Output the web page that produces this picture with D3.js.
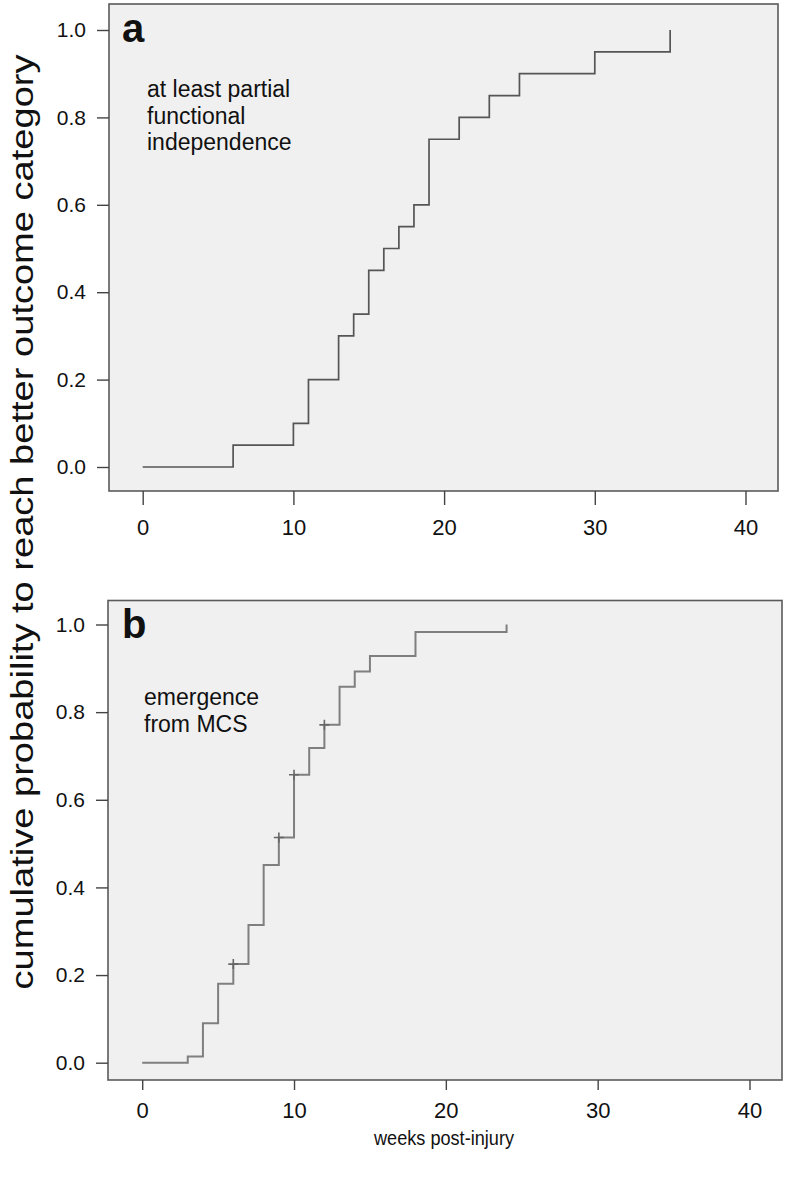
<!DOCTYPE html>
<html>
<head>
<meta charset="utf-8">
<script src="https://cdn.jsdelivr.net/npm/d3@7"></script>
<style>
  html, body { margin: 0; padding: 0; background: #fff; }
  svg { display: block; }
  text { font-family: "Liberation Sans", Arial, sans-serif; fill: #111; }
</style>
</head>
<body>
<svg id="chart" width="792" height="1184"></svg>
<script>
// ---- Data ----
const xTicks = [0, 10, 20, 30, 40];
const yTicks = [0, 0.2, 0.4, 0.6, 0.8, 1.0];

// Panel a: at least partial functional independence
const weeksA = [0, 6, 10, 11, 13, 14, 15, 16, 17, 18, 19, 21, 23, 25, 30, 35];
const probA  = [0, 0.05, 0.10, 0.20, 0.30, 0.35, 0.45, 0.50, 0.55, 0.60, 0.75, 0.80, 0.85, 0.90, 0.95, 1.00];

// Panel b: emergence from MCS
const weeksB = [0, 3, 4, 5, 6, 7, 8, 9, 10, 11, 12, 13, 14, 15, 18, 24];
const probB  = [0, 0.014, 0.09, 0.18, 0.225, 0.314, 0.451, 0.514, 0.657, 0.718, 0.771, 0.858, 0.893, 0.928, 0.983, 1.00];
const censorWeeksB = [6, 9, 10, 12];

const labelA = ["at least partial", "functional", "independence"];
const labelB = ["emergence", "from MCS"];
const yTitle = "cumulative probability to reach better outcome category";
const xTitle = "weeks post-injury";

// ---- Drawing ----
const svg = d3.select("#chart");

function panel(cfg) {
  const g = svg.append("g");
  const x = d3.scaleLinear().domain([0, 40]).range([cfg.x0, cfg.x40]);
  const y = d3.scaleLinear().domain([0, 1]).range([cfg.y0, cfg.y1]);

  g.append("rect")
    .attr("x", cfg.left).attr("y", cfg.top)
    .attr("width", cfg.right - cfg.left).attr("height", cfg.bottom - cfg.top)
    .attr("fill", "#f0f0f0").attr("stroke", "#5a5a5a").attr("stroke-width", 1.6);

  const ya = g.append("g").attr("transform", `translate(${cfg.left},0)`)
    .call(d3.axisLeft(y).tickValues(yTicks).tickSize(12).tickPadding(11).tickFormat(d3.format(".1f")));
  ya.select(".domain").remove();
  ya.selectAll("line").attr("stroke", "#444").attr("stroke-width", 1.4);
  ya.selectAll("text").attr("font-size", 21).attr("font-family", "Liberation Sans, Arial, sans-serif").attr("fill", "#111");

  const xa = g.append("g").attr("transform", `translate(0,${cfg.bottom})`)
    .call(d3.axisBottom(x).tickValues(xTicks).tickSize(cfg.xTickSize).tickPadding(cfg.xTickPad).tickFormat(d3.format("d")));
  xa.select(".domain").remove();
  xa.selectAll("line").attr("stroke", "#444").attr("stroke-width", 1.4);
  xa.selectAll("text").attr("font-size", 22).attr("font-family", "Liberation Sans, Arial, sans-serif").attr("fill", "#111");

  const pts = cfg.weeks.map((w, i) => [w, cfg.probs[i]]);
  const line = d3.line().x(d => x(d[0])).y(d => y(d[1])).curve(d3.curveStepAfter);
  g.append("path").datum(pts)
    .attr("d", line).attr("fill", "none")
    .attr("stroke", cfg.lineColor).attr("stroke-width", cfg.lineWidth);

  if (cfg.censor) {
    cfg.censor.forEach(w => {
      const p = cfg.probs[cfg.weeks.indexOf(w)];
      const cx = x(w), cy = y(p);
      g.append("path")
        .attr("d", `M${cx - 5},${cy}H${cx + 5}M${cx},${cy - 5}V${cy + 5}`)
        .attr("stroke", "#666").attr("stroke-width", 1.6).attr("fill", "none");
    });
  }

  g.append("text").attr("x", cfg.letterX).attr("y", cfg.letterY)
    .attr("font-size", 40).attr("font-weight", "bold").text(cfg.letter);

  cfg.label.forEach((t, i) => {
    g.append("text").attr("x", cfg.labelX).attr("y", cfg.labelY + i * cfg.labelStep)
      .attr("font-size", 23).text(t);
  });
}

panel({
  left: 109, right: 778, top: 4, bottom: 491,
  x0: 142.7, x40: 745.5, y0: 467, y1: 30,
  xTickSize: 14, xTickPad: 14,
  weeks: weeksA, probs: probA, lineColor: "#555", lineWidth: 1.7,
  letter: "a", letterX: 122, letterY: 42,
  label: labelA, labelX: 147, labelY: 97, labelStep: 26.7
});

panel({
  left: 108, right: 782, top: 600.5, bottom: 1080,
  x0: 142.2, x40: 749.5, y0: 1062.7, y1: 624.5,
  xTickSize: 10, xTickPad: 12,
  weeks: weeksB, probs: probB, censor: censorWeeksB, lineColor: "#7f7f7f", lineWidth: 2,
  letter: "b", letterX: 122, letterY: 638,
  label: labelB, labelX: 144, labelY: 705, labelStep: 26.7
});

svg.append("text")
  .attr("transform", "translate(33,522) rotate(-90)")
  .attr("text-anchor", "middle")
  .attr("font-size", 31)
  .attr("textLength", 935).attr("lengthAdjust", "spacingAndGlyphs")
  .text(yTitle);

svg.append("text")
  .attr("x", 444).attr("y", 1145)
  .attr("text-anchor", "middle")
  .attr("font-size", 21)
  .attr("textLength", 140).attr("lengthAdjust", "spacingAndGlyphs")
  .text(xTitle);
</script>
</body>
</html>
